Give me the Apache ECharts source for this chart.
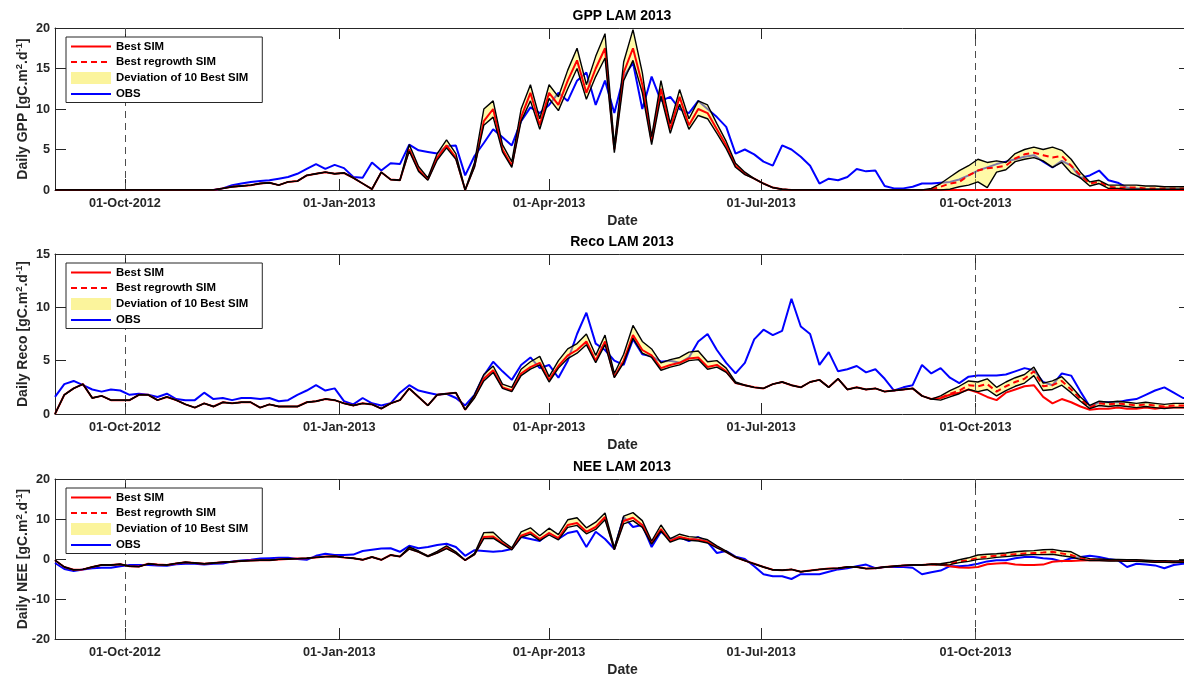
<!DOCTYPE html>
<html>
<head>
<meta charset="utf-8">
<script src="https://cdn.jsdelivr.net/npm/echarts@6/dist/echarts.min.js"></script>
<style>
  html, body { margin: 0; padding: 0; background: #fff; }
  #chart { width: 1184px; height: 677px; }
</style>
</head>
<body>
<div id="chart"></div>
<script>
// samples every 4 days, starting 01-Sep-2012 (day 0); axis ends 01-Jan-2014 (day 487)
const STEP_DAYS = 4;
const AXIS_MAX_DAY = 487;
const REGROWTH_FROM = 94; // first sample index of the regrowth run
const tickDays = [30, 122, 212, 303, 395, 487];
const labelDays = [30, 122, 212, 303, 395];
const tickLabels = ['01-Oct-2012', '01-Jan-2013', '01-Apr-2013', '01-Jul-2013', '01-Oct-2013'];
const cutDays = [30, 395];

// ---- GPP ----
const gppObs = [
  0,0,0,0,0,0,0,0,0,0,
  0,0,0,0,0,0,0,0,0.2,0.6,
  0.8,1.0,1.1,1.2,1.4,1.6,2.0,2.6,3.2,2.6,
  3.1,2.7,1.6,1.5,3.4,2.4,3.3,3.2,5.6,4.9,
  4.7,4.5,5.4,5.5,1.8,4.2,5.8,7.5,6.5,5.5,
  8.5,10.2,9.5,10.5,12.0,11.0,13.5,14.5,10.5,13.5,
  9.5,14.0,15.7,10.0,14.0,11.0,11.5,10.0,9.5,11.0,
  10.0,9.0,7.8,4.5,5.0,4.4,3.5,3.0,5.5,5.0,
  4.1,3.0,0.8,1.4,1.2,1.6,2.6,2.3,2.4,0.5,
  0.2,0.2,0.4,0.8,0.8,0.9,1.0,1.3,1.8,2.4,
  2.8,3.2,3.5,3.8,4.1,4.3,3.5,2.8,3.6,3.0,
  1.5,1.8,2.4,1.2,0.9,0.3,0.2,0.1,0.1,0.1,
  0.1,0.1,0.1
];
const gppBest = [
  0,0,0,0,0,0,0,0,0,0,
  0,0,0,0,0,0,0,0,0.2,0.4,
  0.5,0.6,0.8,0.9,0.6,1.0,1.1,1.8,2.0,2.2,
  2.0,2.1,1.5,0.8,0.1,2.2,1.3,1.2,5.0,2.5,
  1.3,4.0,5.5,4.0,0,3.0,8.5,10.0,5.0,3.0,
  9.0,12.0,8.0,12.0,10.5,13.5,16.0,12.0,15.0,17.5,
  5.0,14.5,17.5,13.0,6.0,12.5,7.5,11.5,8.0,10.0,
  9.5,7.5,5.5,3.0,2.0,1.4,0.8,0.3,0.1,0,
  0,0,0,0,0,0,0,0,0,0,
  0,0,0,0,0,0,0,0,0,0,
  0,0,0,0,0,0,0,0,0,0,
  0,0,0,0,0,0,0,0,0,0,
  0,0,0
];
const gppBandFrom = 38;
const gppLow = [
  4.8,2.3,
  1.2,3.7,5.2,3.8,0,2.8,8.0,9.0,4.7,2.8,
  8.5,11.0,7.5,11.3,9.8,12.5,15.0,11.2,14.0,16.3,
  4.6,13.5,16.0,12.0,5.6,11.6,7.0,10.6,7.5,9.2,
  8.8,7.0,5.1,2.8,1.9,1.4,0.8,0.3,0.1,0,
  0,0,0,0,0,0,0,0,0,0,
  0,0,0,0,0,0,0.1,0.4,0.6,1.0,
  0.3,2.2,2.5,3.5,3.8,4.0,3.6,2.8,3.4,2.1,
  1.5,0.5,0.8,0.2,0.2,0.1,0.1,0.1,0.1,0.1,
  0.1,0.1,0.1
];
const gppHigh = [
  5.6,2.9,
  1.5,4.5,6.2,4.5,0,3.4,10.0,11.0,5.6,3.5,
  10.0,13.0,8.8,13.0,11.5,14.8,17.5,13.0,16.5,19.3,
  5.5,15.8,19.8,14.5,6.6,13.5,8.2,12.4,8.8,11.0,
  10.5,8.2,6.0,3.3,2.2,1.4,0.8,0.3,0.1,0,
  0,0,0,0,0,0,0,0,0,0,
  0,0,0,0,0.2,0.8,1.6,2.4,3.0,3.8,
  3.4,3.6,3.4,4.5,5.0,5.3,5.0,5.3,4.9,3.8,
  2.2,1.0,1.2,0.6,0.6,0.6,0.6,0.5,0.5,0.4,
  0.4,0.4,0.4
];
const gppRegrowth = [
  0.1,0.4,0.8,1.0,1.8,2.4,
  2.7,2.8,3.0,3.9,4.4,4.6,4.3,4.0,4.2,3.0,
  1.8,0.8,1.0,0.4,0.3,0.3,0.3,0.2,0.2,0.2,
  0.2,0.2,0.2
];

// ---- Reco ----
const recoObs = [
  1.6,2.8,3.1,2.7,2.3,2.1,2.3,2.2,1.8,1.9,
  1.8,1.6,1.9,1.4,1.3,1.3,2.0,1.4,1.5,1.3,
  1.5,1.5,1.4,1.5,1.2,1.3,1.8,2.2,2.7,2.2,
  2.4,1.2,0.9,1.5,1.0,0.8,1.0,2.0,2.7,2.2,
  2.0,1.8,1.9,1.5,0.8,1.8,3.6,4.9,4.0,3.2,
  4.6,5.3,4.3,4.6,3.4,5.0,7.5,9.5,6.6,6.0,
  5.0,4.6,7.0,5.6,5.4,4.9,5.0,4.8,5.3,6.8,
  7.5,6.0,4.8,3.8,4.8,7.0,7.9,7.4,7.8,10.8,
  8.2,7.5,4.6,5.8,4.0,4.2,4.5,3.9,4.2,3.3,
  2.2,2.5,2.7,4.6,3.8,4.3,3.4,2.9,3.5,3.6,
  3.6,3.6,3.7,4.0,4.3,4.1,3.0,2.7,3.8,3.6,
  2.1,0.7,1.1,1.1,1.1,1.3,1.4,1.8,2.2,2.5,
  2.0,1.5,1.5
];
const recoBest = [
  0,1.8,2.4,2.8,1.5,1.7,1.3,1.3,1.3,1.8,
  1.8,1.3,1.6,1.3,0.9,0.6,1.0,0.7,1.1,1.0,
  1.1,1.1,0.6,0.9,0.7,0.7,0.7,1.1,1.2,1.4,
  1.3,1.0,0.8,1.0,0.9,0.5,1.0,1.3,2.4,1.6,
  0.8,1.8,1.9,2.0,0.4,1.6,3.3,4.1,2.5,2.2,
  3.8,4.4,4.8,3.2,4.5,5.5,6.0,6.8,5.0,6.8,
  3.5,5.0,7.4,6.0,5.5,4.3,4.6,4.8,5.2,5.3,
  4.4,4.6,4.0,2.9,2.7,2.5,2.4,2.8,3.0,2.7,
  2.5,3.0,3.2,2.5,3.3,2.3,2.5,2.3,2.4,2.1,
  2.2,2.3,2.4,1.7,1.4,1.5,1.8,2.0,2.3,2.0,
  1.6,1.3,2.0,2.3,2.6,2.7,1.6,1.0,1.4,1.1,
  0.7,0.4,0.5,0.5,0.6,0.5,0.5,0.6,0.5,0.6,
  0.6,0.6,0.6
];
const recoBandFrom = 44;
const recoLow = [
  0.4,1.5,3.1,3.9,2.4,2.1,
  3.6,4.2,4.6,3.0,4.3,5.2,5.7,6.5,4.8,6.5,
  3.4,4.8,7.1,5.7,5.3,4.1,4.4,4.6,5.0,5.1,
  4.2,4.4,3.9,2.9,2.7,2.5,2.4,2.8,3.0,2.7,
  2.5,3.0,3.2,2.5,3.3,2.3,2.5,2.3,2.4,2.1,
  2.2,2.3,2.4,1.7,1.4,1.3,1.6,1.9,2.3,2.1,
  2.3,1.7,2.2,2.6,2.9,3.6,2.2,2.3,2.7,2.0,
  1.2,0.5,0.8,0.7,0.8,0.7,0.6,0.7,0.6,0.5,
  0.6,0.6,0.6
];
const recoHigh = [
  0.4,1.8,3.7,4.5,2.8,2.5,
  4.2,4.9,5.4,3.5,5.0,6.1,6.6,7.5,5.5,7.4,
  3.8,5.6,8.3,6.8,6.1,4.8,5.1,5.3,5.8,5.9,
  4.9,5.0,4.3,3.0,2.7,2.5,2.4,2.8,3.0,2.7,
  2.5,3.0,3.2,2.5,3.3,2.3,2.5,2.3,2.4,2.1,
  2.2,2.3,2.4,1.7,1.4,1.7,2.2,2.6,3.1,3.0,
  3.3,2.5,3.0,3.4,3.7,4.4,2.9,3.1,3.5,2.6,
  1.6,0.8,1.2,1.1,1.2,1.1,1.0,1.1,1.0,0.9,
  1.0,1.0,1.0
];
const recoRegrowth = [
  1.4,1.5,1.9,2.2,2.7,2.6,
  2.8,2.1,2.6,3.0,3.3,4.0,2.6,2.7,3.1,2.3,
  1.4,0.6,1.0,0.9,1.0,0.9,0.8,0.9,0.8,0.7,
  0.8,0.8,0.8
];

// ---- NEE ----
const neeObs = [
  -1.0,-2.5,-3.0,-2.6,-2.3,-2.2,-2.2,-1.8,-1.5,-1.5,
  -1.5,-1.6,-1.7,-1.3,-1.2,-1.2,-1.4,-1.2,-1.1,-0.6,
  -0.4,-0.2,0.1,0.2,0.3,0.3,0.0,-0.2,0.8,1.3,
  1.0,1.0,1.1,2.0,2.3,2.6,2.7,1.8,3.3,2.7,
  3.0,3.5,3.8,3.0,0.8,2.2,2.0,1.8,2.0,2.5,
  5.5,5.0,4.5,6.5,5.0,6.5,7.0,3.0,6.8,5.0,
  2.5,10.5,8.0,8.5,3.0,6.8,5.0,5.5,4.5,5.5,
  4.2,1.5,2.0,0.6,0.0,-1.8,-3.8,-4.3,-4.3,-5.0,
  -3.8,-3.8,-3.8,-3.2,-2.6,-2.3,-1.8,-1.4,-2.3,-2.0,
  -2.0,-2.0,-2.2,-3.8,-3.3,-2.9,-1.8,-1.8,-1.6,-1.2,
  -0.6,-0.3,-0.3,0.2,0.5,0.5,0.2,0.0,-0.6,0.2,
  0.5,0.8,0.5,0.0,-0.3,-2.0,-1.2,-1.4,-1.6,-2.3,
  -1.5,-1.2,-1.2
];
const neeBest = [
  -0.3,-2.0,-2.7,-2.6,-2.0,-1.5,-1.5,-1.3,-1.8,-1.9,
  -1.2,-1.4,-1.5,-1.1,-0.8,-1.0,-1.2,-1.0,-0.8,-0.7,
  -0.5,-0.4,-0.3,-0.3,-0.1,0.0,0.1,0.2,0.4,0.6,
  0.7,0.4,0.2,-0.2,0.5,-0.2,1.0,0.6,2.6,1.8,
  0.7,1.6,2.8,1.5,-0.3,1.2,5.5,5.6,4.0,2.5,
  5.8,6.7,5.0,6.5,5.2,8.5,9.0,6.8,8.0,10.5,
  2.5,9.5,10.3,8.5,4.0,7.5,4.5,5.5,5.0,4.8,
  4.3,3.0,1.8,0.4,-0.4,-1.2,-2.0,-2.7,-2.8,-2.6,
  -3.2,-2.9,-2.6,-2.4,-2.3,-2.0,-2.0,-2.4,-2.3,-2.0,
  -1.8,-1.6,-1.5,-1.5,-1.3,-1.4,-1.8,-2.1,-2.2,-2.0,
  -1.3,-1.1,-1.0,-1.4,-1.5,-1.5,-1.4,-0.7,-0.5,-0.5,
  -0.4,-0.3,-0.3,-0.3,-0.3,-0.4,-0.4,-0.5,-0.6,-0.7,
  -0.8,-0.7,-0.7
];
const neeBandFrom = 38;
const neeLow = [
  2.5,1.7,
  0.6,1.5,2.6,1.4,-0.3,1.1,5.1,5.2,3.7,2.3,
  5.4,6.2,4.6,6.0,4.8,7.9,8.4,6.3,7.4,9.8,
  2.3,8.8,9.6,7.9,3.7,7.0,4.2,5.1,4.7,4.5,
  4.0,2.8,1.7,0.4,-0.4,-1.2,-2.0,-2.7,-2.8,-2.6,
  -3.2,-2.9,-2.6,-2.4,-2.3,-2.0,-2.0,-2.4,-2.3,-2.0,
  -1.8,-1.6,-1.5,-1.5,-1.3,-1.5,-1.4,-0.9,-0.6,-0.1,
  0.1,0.4,0.6,0.8,1.0,1.1,1.1,1.2,0.8,0.5,
  -0.1,-0.4,-0.4,-0.5,-0.5,-0.6,-0.6,-0.7,-0.8,-0.8,
  -0.9,-0.8,-0.8
];
const neeHigh = [
  3.0,2.0,
  0.8,1.9,3.3,1.8,-0.3,1.4,6.6,6.7,4.5,2.8,
  6.8,7.8,5.8,7.7,6.1,9.8,10.3,7.8,9.2,11.5,
  2.8,10.7,11.6,9.6,4.5,8.5,5.1,6.2,5.6,5.4,
  4.8,3.3,2.0,0.5,-0.4,-1.2,-2.0,-2.7,-2.8,-2.6,
  -3.2,-2.9,-2.6,-2.4,-2.3,-2.0,-2.0,-2.4,-2.3,-2.0,
  -1.8,-1.6,-1.5,-1.5,-1.3,-1.2,-0.8,-0.2,0.3,1.0,
  1.2,1.3,1.5,1.8,2.0,2.1,2.3,2.4,2.0,1.8,
  0.6,0.1,0.0,-0.1,-0.1,-0.2,-0.2,-0.3,-0.4,-0.4,
  -0.5,-0.4,-0.4
];
const neeRegrowth = [
  -1.3,-1.4,-1.2,-0.6,-0.3,0.3,
  0.6,0.8,1.0,1.2,1.4,1.5,1.6,1.8,1.4,1.0,
  0.2,-0.2,-0.2,-0.3,-0.3,-0.4,-0.4,-0.5,-0.6,-0.6,
  -0.7,-0.6,-0.6
];

const panels = [
  { title: 'GPP LAM 2013', yName: 'Daily GPP', top: 28, height: 162, min: 0, max: 20, interval: 5,
    obs: gppObs, best: gppBest, bandFrom: gppBandFrom, low: gppLow, high: gppHigh, regrowth: gppRegrowth },
  { title: 'Reco LAM 2013', yName: 'Daily Reco', top: 254, height: 160, min: 0, max: 15, interval: 5,
    obs: recoObs, best: recoBest, bandFrom: recoBandFrom, low: recoLow, high: recoHigh, regrowth: recoRegrowth },
  { title: 'NEE LAM 2013', yName: 'Daily NEE', top: 479, height: 160, min: -20, max: 20, interval: 10,
    obs: neeObs, best: neeBest, bandFrom: neeBandFrom, low: neeLow, high: neeHigh, regrowth: neeRegrowth },
];

const AX_COLOR = '#262626';
const FONT = 'Liberation Sans, Arial, Helvetica, sans-serif';
const BAND_FILL = 'rgba(255,245,80,0.5)';
const BAND_SWATCH = '#fbf49c';
const TICK_LEN = 11;
const LEGEND_NAMES = ['Best SIM', 'Best regrowth SIM', 'Deviation of 10 Best SIM', 'OBS'];

const pairs = (values, from) => values.map((v, i) => [(from + i) * STEP_DAYS, v]);
const labelFor = (v) => {
  const i = labelDays.indexOf(Math.round(v));
  return i >= 0 ? tickLabels[i] : '';
};

const grid = [], xAxis = [], yAxis = [], series = [], legend = [], title = [];

panels.forEach((p, i) => {
  grid.push({ left: 55, right: -6, top: p.top, height: p.height, containLabel: false, outerBoundsMode: 'none' });

  const xBase = {
    gridIndex: i, type: 'value', min: 0, max: AXIS_MAX_DAY,
    axisLine: { show: true, onZero: false, lineStyle: { color: AX_COLOR, width: 1 } },
    axisTick: { show: true, inside: true, length: TICK_LEN, customValues: tickDays, lineStyle: { color: AX_COLOR } },
    splitLine: { show: false },
  };
  xAxis.push(Object.assign({}, xBase, {
    position: 'bottom',
    name: 'Date', nameLocation: 'middle', nameGap: 24, nameMoveOverlap: false,
    nameTextStyle: { fontSize: 14, fontWeight: 'bold', color: AX_COLOR, fontFamily: FONT },
    axisLabel: { show: true, customValues: labelDays, formatter: labelFor, margin: 7,
      fontSize: 12.7, fontWeight: 'bold', color: AX_COLOR, fontFamily: FONT },
  }));
  xAxis.push(Object.assign({}, xBase, { position: 'top', axisLabel: { show: false } }));

  const yBase = {
    gridIndex: i, type: 'value', min: p.min, max: p.max, interval: p.interval,
    axisLine: { show: true, onZero: false, lineStyle: { color: AX_COLOR, width: 1 } },
    axisTick: { show: true, inside: true, length: TICK_LEN, lineStyle: { color: AX_COLOR } },
    splitLine: { show: false },
  };
  yAxis.push(Object.assign({}, yBase, {
    position: 'left',
    name: p.yName + ' [gC.m{sup|2}.d{sup|-1}]',
    nameLocation: 'middle', nameRotate: 90, nameGap: 23, nameMoveOverlap: false,
    nameTextStyle: {
      fontSize: 14, fontWeight: 'bold', color: AX_COLOR, fontFamily: FONT,
      rich: { sup: { fontSize: 9.5, fontWeight: 'bold', color: AX_COLOR, fontFamily: FONT,
                     verticalAlign: 'bottom', padding: [0, 0, 8, 0] } },
    },
    axisLabel: { show: true, margin: 5, fontSize: 12.7, fontWeight: 'bold', color: AX_COLOR, fontFamily: FONT },
  }));
  yAxis.push(Object.assign({}, yBase, { position: 'right', axisLabel: { show: false } }));

  // full-length bounds of the 10 best runs (equal to best SIM before the band opens)
  const low = p.best.map((v, k) => (k < p.bandFrom ? v : p.low[k - p.bandFrom]));
  const high = p.best.map((v, k) => (k < p.bandFrom ? v : p.high[k - p.bandFrom]));
  const bandRows = low.map((v, k) => [k * STEP_DAYS, v, high[k]]);

  const ax = { xAxisIndex: 2 * i, yAxisIndex: 2 * i, silent: true };
  const line = Object.assign({ type: 'line', symbol: 'none', showSymbol: false }, ax);
  series.push(
    Object.assign({}, line, {
      name: 'OBS', data: pairs(p.obs, 0), z: 2,
      color: '#0000ff', lineStyle: { color: '#0000ff', width: 2 },
      markLine: {
        silent: true, symbol: ['none', 'none'], label: { show: false },
        lineStyle: { color: '#4d4d4d', width: 1, type: [7, 5] },
        data: cutDays.map((d) => ({ xAxis: d })),
      },
    }),
    Object.assign({}, ax, {
      type: 'custom', name: 'Deviation of 10 Best SIM', z: 3, clip: true,
      color: BAND_SWATCH, itemStyle: { color: BAND_SWATCH },
      data: bandRows, encode: { x: 0, y: [1, 2] },
      renderItem: (params, api) => {
        if (params.dataIndex !== 0) return null;
        const pts = bandRows.map((r) => api.coord([r[0], r[2]]));
        for (let k = bandRows.length - 1; k >= 0; k--) pts.push(api.coord([bandRows[k][0], bandRows[k][1]]));
        return { type: 'polygon', shape: { points: pts }, style: { fill: BAND_FILL, stroke: null } };
      },
    }),
    Object.assign({}, line, {
      name: 'Best SIM', data: pairs(p.best, 0), z: 4,
      color: '#ff0000', lineStyle: { color: '#ff0000', width: 2 },
    }),
    Object.assign({}, line, {
      name: 'Best regrowth SIM', data: pairs(p.regrowth, REGROWTH_FROM), z: 5,
      color: '#ff0000', lineStyle: { color: '#ff0000', width: 2, type: [6, 4] },
    }),
    Object.assign({}, line, {
      name: 'low-' + i, data: pairs(low, 0), z: 6,
      color: '#000', lineStyle: { color: '#000000', width: 1.4 },
    }),
    Object.assign({}, line, {
      name: 'high-' + i, data: pairs(high, 0), z: 6,
      color: '#000', lineStyle: { color: '#000000', width: 1.4 },
    })
  );

  legend.push({
    orient: 'vertical', left: 66, top: p.top + 9,
    itemWidth: 40, itemHeight: 12, itemGap: 4.5,
    padding: [4, 14, 3, 4],
    borderColor: AX_COLOR, borderWidth: 1, borderRadius: 0, backgroundColor: '#ffffff',
    selectedMode: false, z: 10,
    textStyle: { fontSize: 11.4, fontWeight: 'bold', color: '#000', fontFamily: FONT },
    data: LEGEND_NAMES.map((n) => (n === 'Deviation of 10 Best SIM'
      ? { name: n, icon: 'rect', itemStyle: { color: BAND_SWATCH, opacity: 1 } }
      : { name: n, itemStyle: { opacity: 0 } })),
  });

  title.push({
    text: p.title, left: 622, top: p.top - 19, textAlign: 'center', padding: 0,
    textStyle: { fontSize: 14, fontWeight: 'bold', color: '#000', fontFamily: FONT },
  });
});

const chart = echarts.init(document.getElementById('chart'), null, { renderer: 'canvas' });
chart.setOption({
  animation: false,
  backgroundColor: '#ffffff',
  textStyle: { fontFamily: FONT },
  title, grid, xAxis, yAxis, legend, series,
});
</script>
</body>
</html>
